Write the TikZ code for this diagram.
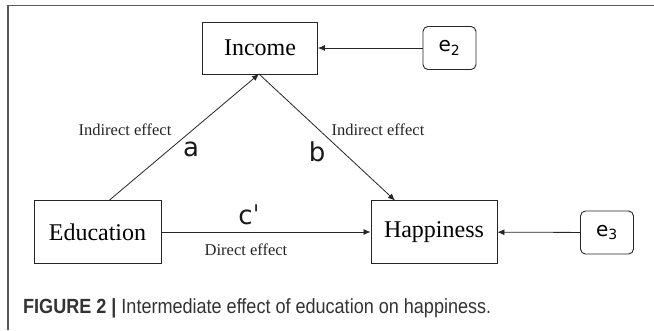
\documentclass[tikz,border=0pt]{standalone}
\usepackage{fontspec}
\setmainfont{Liberation Serif}
\newfontfamily\symfont{DejaVu Sans}
\newfontfamily\capfont[FakeStretch=0.88]{Liberation Sans}
\usetikzlibrary{arrows.meta}
\begin{document}
\begin{tikzpicture}[x=1pt,y=-1pt,
  varbox/.style={draw=black!85, line width=0.9pt, minimum width=115pt, minimum height=52pt, inner sep=0pt, font=\fontsize{24}{28}\selectfont},
  errbox/.style={draw=black!85, line width=0.9pt, rounded corners=5pt, minimum width=53pt, minimum height=43pt, inner sep=0pt, font=\symfont\fontsize{20}{24}\selectfont},
  conn/.style={draw=black!85, line width=0.8pt, -{Latex[length=7pt,width=6pt]}},
  efflabel/.style={font=\fontsize{16.5}{19}\selectfont, inner sep=0pt, text=black!85},
  pathlabel/.style={font=\symfont\fontsize{26}{30}\selectfont, inner sep=0pt, text=black!90}]
\useasboundingbox (0,0) rectangle (654,330);
\fill[white] (0,0) rectangle (654,330);
\draw[black!65, line width=1.6pt] (8,330) -- (8,5.5) -- (654,5.5);
\node[varbox] (inc) at (260,48) {Income};
\node[varbox, minimum width=127pt, minimum height=63pt] (edu) at (97.5,232) {Education};
\node[varbox, minimum width=126pt, minimum height=63pt] (hap) at (434,232) {Happiness};
\node[errbox] (e2) at (449.5,48) {e\textsubscript{2}};
\node[errbox] (e3) at (607,232.5) {e\textsubscript{3}};
\coordinate (aS) at (109,200.5);
\coordinate (aE) at (259,74);
\coordinate (bE) at (395,200.5);
\draw[conn] (aS) -- (aE);
\draw[conn] (aE) -- (bE);
\draw[conn] (edu) -- (hap);
\draw[conn] (e2) -- (inc);
\draw[conn] (e3) -- (hap);
\node[efflabel] (l1) at (125,130) {Indirect effect};
\node[efflabel] (l2) at (378,130) {Indirect effect};
\node[efflabel] (l3) at (246,250) {Direct effect};
\node[pathlabel] (la) at (191,149) {a};
\node[pathlabel] (lb) at (317,152) {b};
\node[pathlabel] (lc) at (249,215) {c\char"02C8};
\node[anchor=west, inner sep=0pt, text=black!80, font=\capfont\fontsize{20.5}{24}\selectfont] (cap) at (23,308) {\textbf{FIGURE 2 |} Intermediate effect of education on happiness.};
\end{tikzpicture}
\end{document}
